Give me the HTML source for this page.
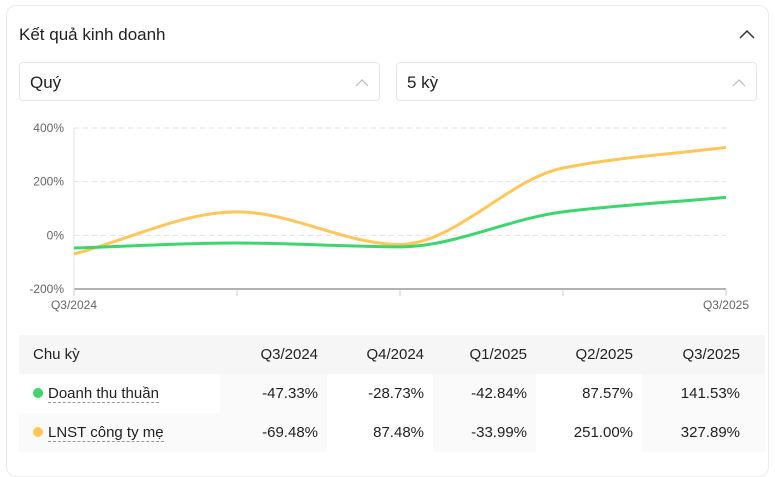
<!DOCTYPE html>
<html><head><meta charset="utf-8"><style>
body{margin:0;width:775px;height:446px;overflow:hidden;background:#fff;font-family:"Liberation Sans",sans-serif;color:#222}
.card{position:absolute;left:6px;top:5px;width:761px;height:470px;border:1px solid #ececec;border-radius:10px;background:#fff}
.title{position:absolute;left:19px;top:25px;font-size:17px;color:#222}
.sel{position:absolute;top:62px;height:39px;border:1px solid #e6e6e6;border-radius:4px;font-size:17px;line-height:39px;box-sizing:border-box;padding-left:10px}
table{position:absolute;left:19px;top:335px;width:746px;border-collapse:collapse;font-size:15px;table-layout:fixed}
td,th{height:39px;padding:0 9px 0 0;text-align:right;font-weight:normal}
th{background:#f6f6f6}
td:first-child,th:first-child{text-align:left;padding-left:14px}
td:last-child,th:last-child{padding-right:25px}
.g{background:#fafafa}
.dot{display:inline-block;width:10px;height:10px;border-radius:50%;margin-right:5px}
.lab{border-bottom:1px dashed #999}
</style></head><body>
<div class="card"></div>
<div class="title">Kết quả kinh doanh</div>
<svg style="position:absolute;left:738px;top:28px" width="18" height="12"><path d="M2 10 L9 3 L16 10" fill="none" stroke="#333" stroke-width="1.5"/></svg>
<div class="sel" style="left:19px;width:361px">Quý<svg style="position:absolute;right:10px;top:15px" width="14" height="9"><path d="M1 8 L7 2 L13 8" fill="none" stroke="#bbb" stroke-width="1.2"/></svg></div>
<div class="sel" style="left:396px;width:361px">5 kỳ<svg style="position:absolute;right:10px;top:15px" width="14" height="9"><path d="M1 8 L7 2 L13 8" fill="none" stroke="#bbb" stroke-width="1.2"/></svg></div>
<svg id="chart" style="position:absolute;left:0;top:0" width="775" height="330"></svg>
<table>
<colgroup><col style="width:201px"><col style="width:107px"><col style="width:106px"><col style="width:103px"><col style="width:106px"><col style="width:123px"></colgroup>
<tr><th>Chu kỳ</th><th>Q3/2024</th><th>Q4/2024</th><th>Q1/2025</th><th>Q2/2025</th><th>Q3/2025</th></tr>
<tr><td><span class="dot" style="background:#3dd56d"></span><span class="lab">Doanh thu thuần</span></td><td class="g">-47.33%</td><td>-28.73%</td><td class="g">-42.84%</td><td>87.57%</td><td class="g">141.53%</td></tr>
<tr><td class="g"><span class="dot" style="background:#ffc65a"></span><span class="lab">LNST công ty mẹ</span></td><td class="g">-69.48%</td><td>87.48%</td><td class="g">-33.99%</td><td>251.00%</td><td class="g">327.89%</td></tr>
</table>
<script>
const categories=["Q3/2024","Q4/2024","Q1/2025","Q2/2025","Q3/2025"];
const revenue=[-47.33,-28.73,-42.84,87.57,141.53];
const profit=[-69.48,87.48,-33.99,251.00,327.89];
const yTicks=[400,200,0,-200];
const NS="http://www.w3.org/2000/svg";
const svg=document.getElementById('chart');
const X0=74,X1=726,YT=128,YB=289;
const x=i=>X0+(X1-X0)*i/(categories.length-1);
const y=v=>YB-(v+200)/600*(YB-YT);
function mk(t,a){const e=document.createElementNS(NS,t);for(const k in a)e.setAttribute(k,a[k]);svg.appendChild(e);return e;}
yTicks.forEach(t=>{
 const l=mk('line',{x1:X0,x2:X1,y1:y(t),y2:y(t),stroke:t===-200?'#666':'#e3e3e3','stroke-dasharray':t===-200?'':'5,4'});
 
 
 const tx=mk('text',{x:64,y:y(t)+4,'text-anchor':'end','font-size':12,fill:'#666','font-family':'Liberation Sans'});
 tx.textContent=t+'%';
 
 
});
mk('line',{x1:X0,x2:X0,y1:YT,y2:YB,stroke:'#e3e3e3'});
categories.forEach((c,i)=>{const t=mk('line',{x1:x(i),x2:x(i),y1:YB,y2:YB+7,stroke:'#ccc'});});
[0,categories.length-1].forEach(i=>{const t=mk('text',{x:x(i),y:YB+20,'text-anchor':'middle','font-size':12,fill:'#666','font-family':'Liberation Sans'});t.textContent=categories[i];});
function path(vals){
 const p=vals.map((v,i)=>[x(i),y(v)]);const n=p.length;
 const d=[],m=[];
 for(let i=0;i<n-1;i++)d.push((p[i+1][1]-p[i][1])/(p[i+1][0]-p[i][0]));
 m[0]=d[0];m[n-1]=d[n-2];
 for(let i=1;i<n-1;i++)m[i]=d[i-1]*d[i]<=0?0:2/(1/d[i-1]+1/d[i]);
 let s='M'+p[0][0]+','+p[0][1];
 for(let i=0;i<n-1;i++){const h=(p[i+1][0]-p[i][0])/3;s+=` C${p[i][0]+h},${p[i][1]+m[i]*h} ${p[i+1][0]-h},${p[i+1][1]-m[i+1]*h} ${p[i+1][0]},${p[i+1][1]}`;}
 return s;
}
const l2=mk('path',{d:path(profit),fill:'none',stroke:'#ffc65a','stroke-width':3});


const l1=mk('path',{d:path(revenue),fill:'none',stroke:'#3dd56d','stroke-width':3});


</script>
</body></html>
